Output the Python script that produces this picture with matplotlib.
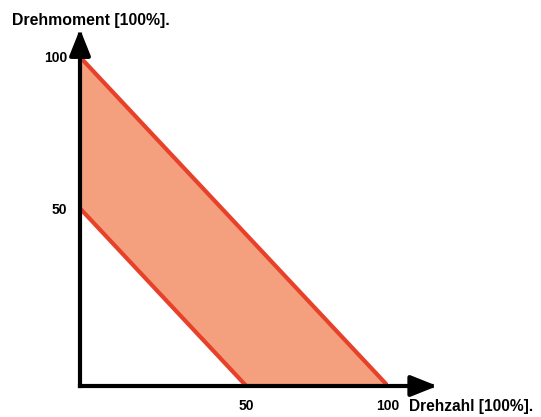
import numpy as np
import matplotlib.pyplot as plt

plt.rcParams['font.family'] = ['Liberation Sans', 'DejaVu Sans']

# Drehzahl / Drehmoment in % (schematic operating band)
drehzahl = [0, 100]
upper_moment = [100, 0]
lower_end = 54  # where the lower edge meets both axes (labelled "50")
lower_moment = [lower_end, 0]

tick_pos = [lower_end, 100]
tick_labels = ['50', '100']

fill_color = '#F4A07E'
line_color = '#E8412A'

W, H = 541, 417
fig = plt.figure(figsize=(W / 100, H / 100), dpi=100)
ax = fig.add_axes([80 / W, (H - 386) / H, 308 / W, 329 / H])
ax.set_xlim(0, 100)
ax.set_ylim(0, 100)

# band between lower and upper line
x = np.linspace(0, 100, 201)
up = np.interp(x, drehzahl, upper_moment)
low = np.clip(np.interp(x, [0, lower_end], lower_moment), 0, None)
ax.fill_between(x, low, up, color=fill_color, lw=0, zorder=1)
ax.plot(drehzahl, upper_moment, color=line_color, lw=3, solid_capstyle='butt', zorder=2)
ax.plot([0, lower_end], lower_moment, color=line_color, lw=3, solid_capstyle='butt', zorder=2)

for s in ax.spines.values():
    s.set_visible(False)

# axes as arrows
arrow = dict(arrowstyle='-|>,head_length=0.8,head_width=0.32', lw=3, color='black',
             mutation_scale=20, shrinkA=0, shrinkB=0, capstyle='projecting')
ax.annotate('', xy=(116, 0), xytext=(0, 0), arrowprops=arrow, annotation_clip=False, zorder=3)
ax.annotate('', xy=(0, 108.5), xytext=(0, 0), arrowprops=arrow, annotation_clip=False, zorder=3)

ax.set_xticks(tick_pos)
ax.set_xticklabels(tick_labels)
ax.set_yticks(tick_pos)
ax.set_yticklabels(tick_labels)
ax.tick_params(length=0, labelsize=10)
ax.tick_params(axis='x', pad=9)
ax.tick_params(axis='y', pad=9)
for lbl in ax.get_xticklabels() + ax.get_yticklabels():
    lbl.set_fontweight('bold')

fig.text(12 / W, 1 - 20 / H, 'Drehmoment [100%].', fontsize=11.4, fontweight='bold',
         ha='left', va='center')
fig.text(409 / W, 1 - 406 / H, 'Drehzahl [100%].', fontsize=11.2, fontweight='bold',
         ha='left', va='center')

fig.savefig('out.png', dpi=100)
